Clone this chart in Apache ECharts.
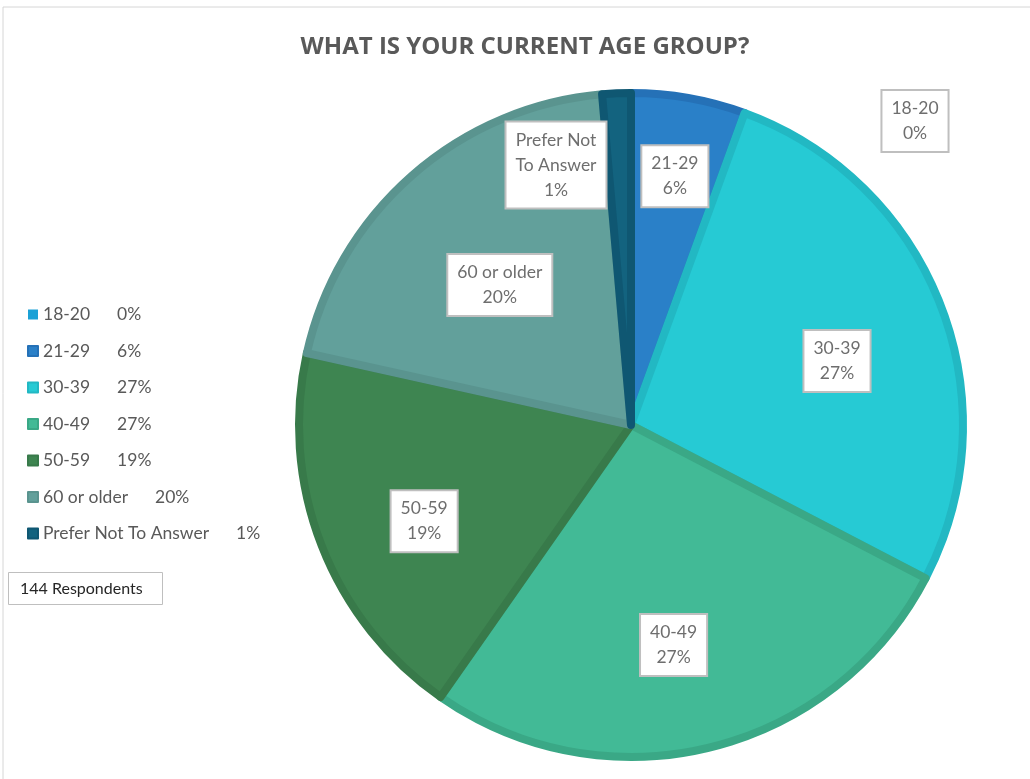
<!DOCTYPE html>
<html>
<head>
<meta charset="utf-8">
<script src="https://cdn.jsdelivr.net/npm/echarts@6/dist/echarts.min.js"></script>
<style>
  html, body { margin: 0; padding: 0; background: #fff; }
  #main { width: 1030px; height: 779px; }
</style>
</head>
<body>
<div id="main"></div>
<script>
// age groups and respondent counts (144 total)
const ageGroups = ['18-20', '21-29', '30-39', '40-49', '50-59', '60 or older', 'Prefer Not To Answer']
const counts = [0, 8, 39, 39, 27, 29, 2]
const fillColors = ['#1ba1d6', '#2a80c8', '#26cad4', '#42ba96', '#3e8551', '#62a09b', '#13637f']
const edgeColors = ['#1ba1d6', '#2571b7', '#22b8c3', '#3aa886', '#387a4a', '#5a948f', '#0f5772']

const total = counts.reduce((a, b) => a + b, 0)
const pct = v => Math.round(v / total * 100)

const cx = 631
const cy = 425
const R = 332
// where each in-slice label sits: fraction of radius, and a small angle nudge (deg)
const labelRadius = [null, 0.752, 0.642, 0.667, 0.679, 0.571, null]
const labelNudge = [0, 0, 4, 2.8, -3.7, -1.9, 0]

const labelBox = {
  backgroundColor: '#fff',
  borderColor: '#bfbfbf',
  borderWidth: 2,
  padding: [5, 9],
  color: '#6e6e6e',
  fontFamily: 'Lato',
  fontSize: 17.5,
  lineHeight: 25,
  align: 'center'
}

const myChart = echarts.init(document.getElementById('main'))

const option = {
  animation: false,
  title: [
    {
      text: 'WHAT IS YOUR CURRENT AGE GROUP?',
      left: 520,
      textAlign: 'center',
      top: 30,
      textStyle: {
        fontFamily: 'Open Sans',
        fontWeight: 'bold',
        fontSize: 24,
        color: '#595959'
      }
    },
    {
      text: '144 Respondents',
      left: 8,
      top: 572,
      borderColor: '#bfbfbf',
      borderWidth: 1,
      padding: [8, 20, 7, 12],
      textStyle: {
        fontFamily: 'Lato',
        fontWeight: 'normal',
        fontSize: 16,
        lineHeight: 18,
        color: '#262626'
      }
    }
  ],
  graphic: [
    {
      type: 'rect',
      shape: { x: 3, y: 7, width: 1100, height: 900 },
      style: { fill: 'none', stroke: '#d6d6d6', lineWidth: 1 },
      silent: true
    }
  ],
  legend: {
    orient: 'vertical',
    left: 22,
    top: 299,
    icon: 'rect',
    itemWidth: 10,
    itemHeight: 10,
    itemGap: 15.5,
    data: ageGroups,
    formatter: function(name) {
      const i = ageGroups.indexOf(name)
      return '{n|' + name + '}{p|' + pct(counts[i]) + '%}'
    },
    textStyle: {
      color: '#595959',
      fontFamily: 'Lato',
      fontSize: 17.5,
      lineHeight: 21,
      rich: {
        n: { fontFamily: 'Lato', fontSize: 17.5, color: '#595959' },
        p: { fontFamily: 'Lato', fontSize: 17.5, color: '#595959', padding: [0, 0, 0, 27] }
      }
    }
  },
  series: [
    {
      type: 'pie',
      center: [cx, cy],
      radius: R,
      startAngle: 90,
      clockwise: true,
      minAngle: 0,
      avoidLabelOverlap: false,
      data: ageGroups.map((name, i) => ({
        name: name,
        value: counts[i],
        itemStyle: {
          color: fillColors[i],
          borderColor: edgeColors[i],
          borderWidth: counts[i] === 0 ? 0 : 8
        },
        label: i === 0 || i === ageGroups.length - 1 ? { position: 'outside' } : { position: 'inside' },
        labelLine: { show: i === ageGroups.length - 1, lineStyle: { color: '#bfbfbf', width: 2 } }
      })),
      label: Object.assign({
        formatter: function(p) {
          return p.name.replace(' To ', '\nTo ') + '\n' + pct(p.value) + '%'
        }
      }, labelBox),
      labelLine: { length: 10, length2: 10 },
      labelLayout: function(params) {
        const i = params.dataIndex
        if (i === 0) {
          return { x: 915, y: 121, align: 'center', verticalAlign: 'middle' }
        }
        if (i === ageGroups.length - 1) {
          return { x: 556, y: 165, align: 'center', verticalAlign: 'middle' }
        }
        let before = 0
        for (let k = 0; k < i; k++) before += counts[k]
        const mid = (before + counts[i] / 2) / total * Math.PI * 2 + labelNudge[i] * Math.PI / 180
        const r = labelRadius[i] * (R + 4)
        return {
          x: cx + r * Math.sin(mid),
          y: cy - r * Math.cos(mid),
          align: 'center',
          verticalAlign: 'middle'
        }
      },
      emphasis: { disabled: true }
    }
  ]
}

option && myChart.setOption(option)
</script>
</body>
</html>
